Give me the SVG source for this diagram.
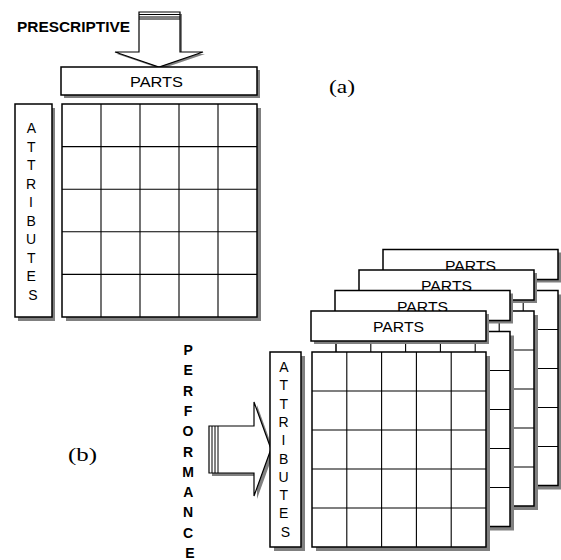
<svg xmlns="http://www.w3.org/2000/svg" xmlns:xlink="http://www.w3.org/1999/xlink" width="561" height="560" viewBox="0 0 561 560">
  <style>
    .bg { fill: #ffffff; }
    .box { fill: #ffffff; stroke: #000000; stroke-width: 1.5; }
    .shd { fill: #808080; }
    .gl { stroke: #000000; stroke-width: 1.1; fill: none; }
    .arrow { fill: #ffffff; stroke: #000000; stroke-width: 1.2; stroke-linejoin: miter; }
    .stripe { stroke: #000000; stroke-width: 1; }
    .lbl { font-family: "Liberation Sans", Arial, sans-serif; font-size: 14px; fill: #000000; }
    .bold { font-weight: bold; }
    .tag { font-family: "Liberation Serif", "Times New Roman", serif; font-size: 18px; fill: #000000; }
  </style>
  <defs>
    <!-- one sheet of the stacked matrices: PARTS header above a 5x5 grid -->
    <g id="sheet">
      <rect class="shd" x="316" y="356" width="174" height="195"/>
      <rect class="box" x="312" y="352" width="174" height="195"/>
      <path class="gl" d="M346.8 352V547M381.6 352V547M416.4 352V547M451.2 352V547M312 391H486M312 430H486M312 469H486M312 508H486"/>
      <rect class="shd" x="314" y="314" width="175" height="30"/>
      <rect class="box" x="311" y="311" width="175" height="30"/>
      <text class="lbl" x="373" y="332" textLength="51" lengthAdjust="spacingAndGlyphs">PARTS</text>
    </g>
  </defs>

  <rect class="bg" x="0" y="0" width="561" height="560"/>

  <!-- (a) prescriptive matrix -->
  <g id="prescriptive-label">
    <text class="lbl bold" x="17" y="32" textLength="113" lengthAdjust="spacingAndGlyphs">PRESCRIPTIVE</text>
  </g>

  <g id="connectors">
    <!-- downward arrow into PARTS -->
    <g id="arrow-a">
      <polygon class="shd" points="141,14 182,14 182,54 205,54 161,69 117,54 141,54"/>
      <polygon class="arrow" points="139,12 180,12 180,52 203,52 159,67 115,52 139,52"/>
      <path class="stripe" d="M139 14.5H180M139 17H180M139 19H180"/>
    </g>
    <!-- rightward arrow into ATTRIBUTES -->
    <g id="arrow-b">
      <polygon class="shd" points="212,429 257,429 257,405 274,452 257,499 257,476 212,476"/>
      <polygon class="arrow" points="209,426 254,426 254,402 271,449 254,496 254,473 209,473"/>
      <path class="stripe" d="M212 426V473M215 426V473M218 426V473"/>
    </g>
  </g>

  <g id="parts-a">
    <rect class="shd" x="64" y="70" width="196" height="28"/>
    <rect class="box" x="61" y="67" width="196" height="28"/>
    <text class="lbl" x="130" y="87" textLength="53" lengthAdjust="spacingAndGlyphs">PARTS</text>
  </g>

  <g id="attributes-a">
    <rect class="shd" x="18" y="108" width="37" height="213"/>
    <rect class="box" x="15" y="104" width="37" height="213"/>
    <text class="lbl" text-anchor="middle">
      <tspan x="33" y="133">A</tspan>
      <tspan x="33" y="151.5">T</tspan>
      <tspan x="33" y="170">T</tspan>
      <tspan x="33" y="188.5">R</tspan>
      <tspan x="33" y="207">I</tspan>
      <tspan x="33" y="225.5">B</tspan>
      <tspan x="33" y="244">U</tspan>
      <tspan x="33" y="262.5">T</tspan>
      <tspan x="33" y="281">E</tspan>
      <tspan x="33" y="299.5">S</tspan>
    </text>
  </g>

  <g id="grid-a">
    <rect class="shd" x="66" y="108" width="195" height="213"/>
    <rect class="box" x="62" y="104" width="195" height="213"/>
    <path class="gl" d="M101 104V317M140 104V317M179 104V317M218 104V317M62 146.6H257M62 189.2H257M62 231.8H257M62 274.4H257"/>
  </g>

  <g id="label-a">
    <text class="tag" x="329" y="93" textLength="26" lengthAdjust="spacingAndGlyphs">(a)</text>
  </g>

  <!-- (b) performance: stacked matrices, back to front -->
  <g id="sheet-4"><use xlink:href="#sheet" transform="translate(72,-61.5)"/></g>
  <g id="sheet-3"><use xlink:href="#sheet" transform="translate(48,-41)"/></g>
  <g id="sheet-2"><use xlink:href="#sheet" transform="translate(24,-20.5)"/></g>
  <g id="sheet-1"><use xlink:href="#sheet"/></g>

  <g id="attributes-b">
    <rect class="shd" x="274" y="356" width="31" height="195"/>
    <rect class="box" x="270" y="352" width="31" height="195"/>
    <text class="lbl" text-anchor="middle">
      <tspan x="285.5" y="372">A</tspan>
      <tspan x="285.5" y="390.3">T</tspan>
      <tspan x="285.5" y="408.6">T</tspan>
      <tspan x="285.5" y="426.9">R</tspan>
      <tspan x="285.5" y="445.2">I</tspan>
      <tspan x="285.5" y="463.5">B</tspan>
      <tspan x="285.5" y="481.8">U</tspan>
      <tspan x="285.5" y="500.1">T</tspan>
      <tspan x="285.5" y="518.4">E</tspan>
      <tspan x="285.5" y="536.7">S</tspan>
    </text>
  </g>

  <g id="performance-label">
    <text class="lbl bold" text-anchor="middle">
      <tspan x="190" y="355">P</tspan>
      <tspan x="190" y="375.3">E</tspan>
      <tspan x="190" y="395.6">R</tspan>
      <tspan x="190" y="415.9">F</tspan>
      <tspan x="190" y="436.2">O</tspan>
      <tspan x="190" y="456.5">R</tspan>
      <tspan x="190" y="476.8">M</tspan>
      <tspan x="190" y="497.1">A</tspan>
      <tspan x="190" y="517.4">N</tspan>
      <tspan x="190" y="537.7">C</tspan>
      <tspan x="190" y="558">E</tspan>
    </text>
  </g>

  <g id="label-b">
    <text class="tag" x="68" y="461" textLength="29" lengthAdjust="spacingAndGlyphs">(b)</text>
  </g>
</svg>
